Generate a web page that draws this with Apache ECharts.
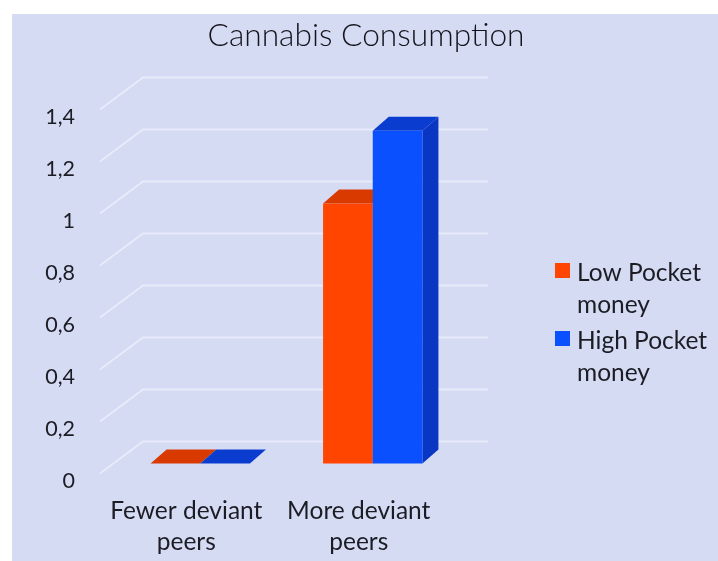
<!DOCTYPE html>
<html><head><meta charset="utf-8">
<style>html,body{margin:0;padding:0;background:#fff}#c{width:718px;height:561px}</style>
<script src="https://cdn.jsdelivr.net/npm/echarts@6/dist/echarts.min.js"></script>
</head><body><div id="c"></div>
<script>
var titleText = 'Cannabis Consumption';
var categories = ['Fewer deviant\npeers', 'More deviant\npeers'];
var lowPocket = [0, 1];
var highPocket = [0, 1.28];
var yTicks = [0, 0.2, 0.4, 0.6, 0.8, 1, 1.2, 1.4];
var yTickLabels = ['0', '0,2', '0,4', '0,6', '0,8', '1', '1,2', '1,4'];
var lowName = 'Low Pocket\nmoney';
var highName = 'High Pocket\nmoney';

var FONT = 'Lato';
var wall = {dx: 43, dy: -32};
var plane = {dx: 14, dy: -10};
var depth = {dx: 16, dy: -14};

function gridItem(params, api) {
  var cs = params.coordSys;
  var y = api.coord([0, api.value(0)])[1];
  return {
    type: 'polyline',
    shape: {points: [[cs.x, y], [cs.x + wall.dx, y + wall.dy], [cs.x + cs.width + wall.dx, y + wall.dy]]},
    style: {stroke: '#e8ebfa', lineWidth: 1.8, fill: null}
  };
}
function barItem(side, front, top, lateral) {
  return function (params, api) {
    var p = api.coord([api.value(0), api.value(1)]);
    var base = api.coord([api.value(0), 0])[1] + plane.dy;
    var w = api.size([1, 0])[0] * 0.288;
    var x0 = p[0] + plane.dx + (side < 0 ? -w : 0), x1 = x0 + w, y = p[1] + plane.dy;
    var d = depth;
    var children = [
      {type: 'polygon', shape: {points: [[x1, y], [x1 + d.dx, y + d.dy], [x1 + d.dx, base + d.dy], [x1, base]]}, style: {fill: lateral}},
      {type: 'polygon', shape: {points: [[x0, y], [x0 + d.dx, y + d.dy], [x1 + d.dx, y + d.dy], [x1, y]]}, style: {fill: top}},
      {type: 'rect', shape: {x: x0, y: y, width: w, height: base - y}, style: {fill: front}}
    ];
    return {type: 'group', children: children};
  };
}
var legendIcon = 'path://M0 0H15V15H0ZM0 52L0 52Z';
var chart = echarts.init(document.getElementById('c'));
chart.setOption({
  animation: false,
  backgroundColor: '#ffffff',
  graphic: [{type: 'rect', z: -10, silent: true, shape: {x: 12, y: 14, width: 706, height: 547}, style: {fill: '#d6dbf4'}}],
  title: {text: titleText, left: 366, top: 20, padding: 0, textAlign: 'center',
    textStyle: {fontFamily: FONT, fontWeight: 300, fontSize: 31.7, color: '#14141c'}},
  grid: {left: 100, top: 109.5, width: 345, height: 364, containLabel: false},
  legend: {
    left: 555, top: 257, padding: 0, orient: 'vertical', itemWidth: 15, itemHeight: 52, itemGap: 4,
    icon: legendIcon, selectedMode: false, align: 'left',
    textStyle: {fontFamily: FONT, fontSize: 24.5, lineHeight: 32, color: '#1c1c24', padding: [0, 0, 0, 2]},
    data: [lowName, highName]
  },
  xAxis: {type: 'category', data: categories,
    axisLine: {show: false}, axisTick: {show: false}, splitLine: {show: false},
    axisLabel: {fontFamily: FONT, fontSize: 24.5, lineHeight: 31, color: '#1c1c24', margin: 22, interval: 0}},
  yAxis: {type: 'value', min: 0, max: 1.4, interval: 0.2,
    axisLine: {show: false}, axisTick: {show: false}, splitLine: {show: false},
    axisLabel: {fontFamily: FONT, fontSize: 21.5, color: '#1c1c24', margin: 25, verticalAlign: 'top', lineHeight: 16,
      formatter: function (v) { return yTickLabels[yTicks.indexOf(Math.round(v * 10) / 10)]; }}},
  series: [
    {type: 'custom', name: 'walls', z: 1, silent: true, renderItem: gridItem,
      data: yTicks.map(function (v) { return [v]; }), encode: {y: 0}},
    {type: 'custom', name: lowName, z: 2, silent: true, itemStyle: {color: '#ff4500'},
      renderItem: barItem(-1, '#ff4500', '#d93a00', '#d93a00'),
      data: lowPocket.map(function (v, i) { return [i, v]; }), encode: {x: 0, y: 1}},
    {type: 'custom', name: highName, z: 3, silent: true, itemStyle: {color: '#0a50ff'},
      renderItem: barItem(1, '#0a50ff', '#0a3ccf', '#0a36c4'),
      data: highPocket.map(function (v, i) { return [i, v]; }), encode: {x: 0, y: 1}}
  ]
});
</script></body></html>
